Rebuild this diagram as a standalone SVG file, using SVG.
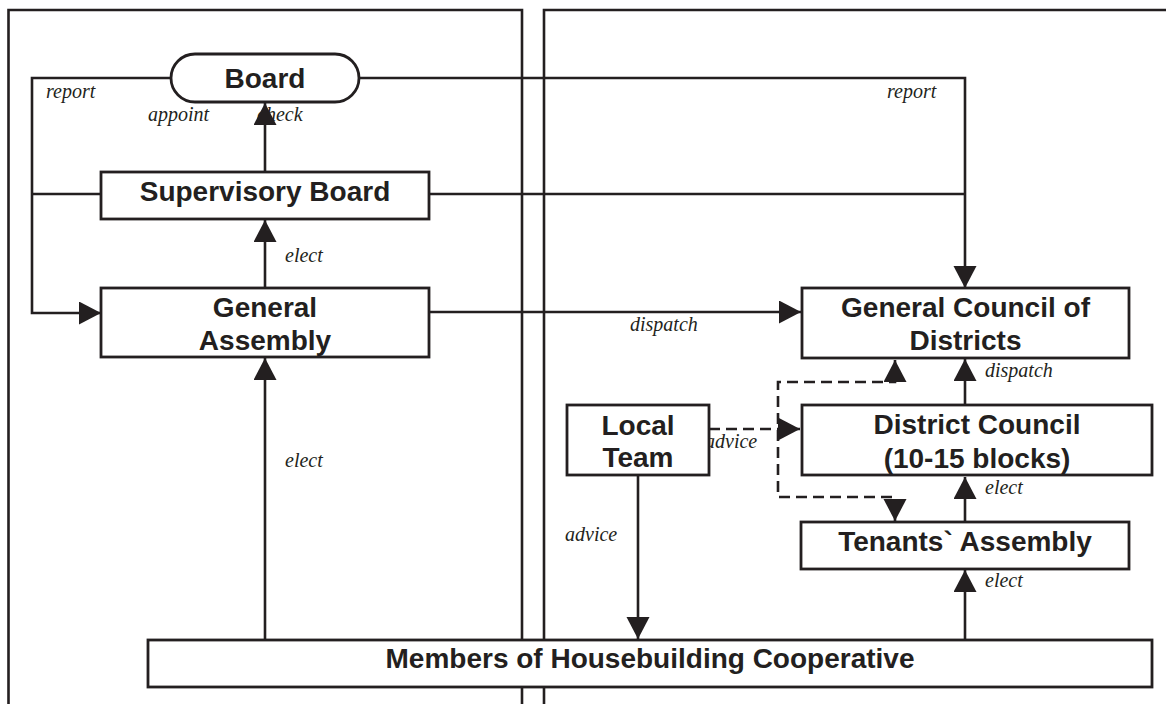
<svg xmlns="http://www.w3.org/2000/svg" width="1166" height="704" viewBox="0 0 1166 704">
<style>
.frame{fill:none;stroke:#231f20;stroke-width:2.6}
.box{fill:#fff;stroke:#231f20;stroke-width:2.8}
.ln{fill:none;stroke:#231f20;stroke-width:2.6}
.dash{fill:none;stroke:#231f20;stroke-width:2.6;stroke-dasharray:11 6}
.t{font-family:"Liberation Sans",Arial,Helvetica,sans-serif;font-weight:bold;font-size:28px;fill:#231f20;text-anchor:middle}
.l{font-family:"Liberation Serif","Times New Roman",serif;font-style:italic;font-size:20px;fill:#231f20}
</style>
<defs>
<marker id="ah" markerUnits="userSpaceOnUse" markerWidth="23" markerHeight="24" refX="22" refY="11.5" orient="auto-start-reverse" viewBox="0 0 23 24">
<path d="M0,0 L22,11.5 L0,23 Z" fill="#231f20"/>
</marker>
</defs>
<rect width="1166" height="704" fill="#fff"/>
<g id="frames">
<path class="frame" d="M8.5,712 V10 H522 V712"/>
<path class="frame" d="M544,712 V10 H1172"/>
</g>
<g id="connectors">
<path class="ln" d="M171,78 H32 V313 H101" marker-end="url(#ah)"/>
<path class="ln" d="M32,194 H101"/>
<path class="ln" d="M265,172 V103" marker-end="url(#ah)"/>
<path class="ln" d="M359,78 H965 V288" marker-end="url(#ah)"/>
<path class="ln" d="M429,194 H965"/>
<path class="ln" d="M265,288 V220" marker-end="url(#ah)"/>
<path class="ln" d="M429,312 H801" marker-end="url(#ah)"/>
<path class="ln" d="M265,640 V358" marker-end="url(#ah)"/>
<path class="ln" d="M965,405 V359" marker-end="url(#ah)"/>
<path class="dash" d="M709,429 H800" marker-end="url(#ah)"/>
<path class="dash" d="M895,360 V382 H778 V497 H895 V521" marker-start="url(#ah)" marker-end="url(#ah)"/>
<path class="ln" d="M965,522 V477" marker-end="url(#ah)"/>
<path class="ln" d="M965,640 V570" marker-end="url(#ah)"/>
<path class="ln" d="M638,475 V639" marker-end="url(#ah)"/>
<text class="l" x="46" y="98">report</text>
<text class="l" x="887" y="98">report</text>
<text class="l" x="148" y="121">appoint</text>
<text class="l" x="257" y="121">check</text>
<text class="l" x="285" y="262">elect</text>
<text class="l" x="630" y="331">dispatch</text>
<text class="l" x="285" y="467">elect</text>
<text class="l" x="985" y="377">dispatch</text>
<text class="l" x="705" y="448">advice</text>
<text class="l" x="985" y="494">elect</text>
<text class="l" x="985" y="587">elect</text>
<text class="l" x="565" y="541">advice</text>
</g>
<g id="board">
<rect class="box" x="171" y="54" width="188" height="48" rx="24" ry="24"/>
<text class="t" x="265" y="88">Board</text>
</g>
<g id="supervisory-board">
<rect class="box" x="101" y="172" width="328" height="47"/>
<text class="t" x="265" y="201">Supervisory Board</text>
</g>
<g id="general-assembly">
<rect class="box" x="101" y="288" width="328" height="69"/>
<text class="t" x="265" y="317">General</text>
<text class="t" x="265" y="350">Assembly</text>
</g>
<g id="general-council">
<rect class="box" x="802" y="288" width="327" height="70"/>
<text class="t" x="965.5" y="317">General Council of</text>
<text class="t" x="965.5" y="350">Districts</text>
</g>
<g id="local-team">
<rect class="box" x="567" y="405" width="142" height="70"/>
<text class="t" x="638" y="435">Local</text>
<text class="t" x="638" y="467">Team</text>
</g>
<g id="district-council">
<rect class="box" x="802" y="405" width="350" height="70"/>
<text class="t" x="977" y="434">District Council</text>
<text class="t" x="977" y="468">(10-15 blocks)</text>
</g>
<g id="tenants-assembly">
<rect class="box" x="801" y="522" width="328" height="47"/>
<text class="t" x="965" y="551">Tenants` Assembly</text>
</g>
<g id="members">
<rect class="box" x="148" y="640" width="1004" height="47"/>
<text class="t" x="650" y="668">Members of Housebuilding Cooperative</text>
</g>
</svg>
